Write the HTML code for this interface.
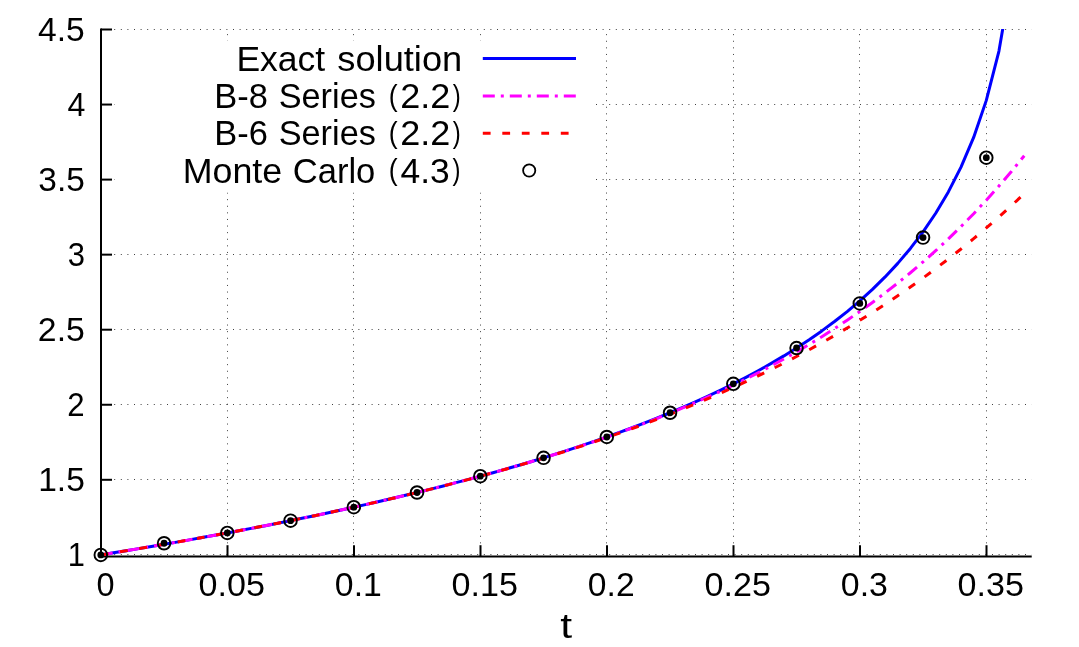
<!DOCTYPE html>
<html><head><meta charset="utf-8"><title>plot</title>
<style>html,body{margin:0;padding:0;background:#fff;}svg{display:block;will-change:transform;}text{font-family:"Liberation Sans",sans-serif;fill:#000;}</style>
</head><body>
<svg width="1079" height="647" viewBox="0 0 1079 647">
<rect x="0" y="0" width="1079" height="647" fill="#ffffff"/>
<g stroke="#000" stroke-opacity="0.75" stroke-width="1" stroke-dasharray="1 5.6" fill="none">
<path d="M101.0,554.50 H1031.7"/>
<path d="M101.0,479.50 H1031.7"/>
<path d="M101.0,404.50 H1031.7"/>
<path d="M101.0,329.50 H1031.7"/>
<path d="M101.0,254.50 H1031.7"/>
<path d="M101.0,179.50 H1031.7"/>
<path d="M101.0,104.50 H1031.7"/>
<path d="M101.0,29.50 H1031.7"/>
<path d="M227.50,556.55 V29.5"/>
<path d="M353.50,556.55 V29.5"/>
<path d="M480.50,556.55 V29.5"/>
<path d="M606.50,556.55 V29.5"/>
<path d="M733.50,556.55 V29.5"/>
<path d="M859.50,556.55 V29.5"/>
<path d="M986.50,556.55 V29.5"/>
</g>
<rect x="114.5" y="41" width="481" height="151.5" fill="#fff"/>
<g stroke="#000" stroke-width="2" fill="none" stroke-linecap="butt">
<path d="M101.0,28.50 V557.40"/>
<path d="M100.0,556.40 H1031.73"/>
<path d="M101.0,479.80 h11"/>
<path d="M101.0,404.75 h11"/>
<path d="M101.0,329.70 h11"/>
<path d="M101.0,254.65 h11"/>
<path d="M101.0,179.60 h11"/>
<path d="M101.0,104.55 h11"/>
<path d="M101.0,29.50 h11"/>
<path d="M227.50,556.4 v-11.2"/>
<path d="M354.00,556.4 v-11.2"/>
<path d="M480.50,556.4 v-11.2"/>
<path d="M607.00,556.4 v-11.2"/>
<path d="M733.50,556.4 v-11.2"/>
<path d="M860.00,556.4 v-11.2"/>
<path d="M986.50,556.4 v-11.2"/>
</g>
<clipPath id="pc"><rect x="0" y="28.90" width="1079" height="647"/></clipPath>
<path d="M100.80,554.90 L113.45,552.84 L126.10,550.76 L138.75,548.64 L151.40,546.50 L164.05,544.32 L176.70,542.11 L189.35,539.87 L202.00,537.60 L214.65,535.29 L227.30,532.94 L239.95,530.56 L252.60,528.14 L265.25,525.68 L277.90,523.18 L290.55,520.63 L303.20,518.04 L315.85,515.41 L328.50,512.73 L341.15,510.00 L353.80,507.22 L366.45,504.39 L379.10,501.50 L391.75,498.56 L404.40,495.56 L417.05,492.50 L429.70,489.37 L442.35,486.18 L455.00,482.92 L467.65,479.58 L480.30,476.17 L492.95,472.68 L505.60,469.11 L518.25,465.45 L530.90,461.70 L543.55,457.85 L556.20,453.91 L568.85,449.85 L581.50,445.68 L594.15,441.40 L606.80,436.99 L619.45,432.44 L632.10,427.76 L644.75,422.92 L657.40,417.92 L670.05,412.75 L682.70,407.40 L695.35,401.85 L708.00,396.08 L720.65,390.09 L733.30,383.84 L745.95,377.33 L758.60,370.52 L771.25,363.39 L783.90,355.90 L796.55,348.02 L809.20,339.70 L821.85,330.90 L834.50,321.55 L847.15,311.57 L859.80,300.89 L872.45,289.39 L885.10,276.94 L897.75,263.36 L910.40,248.43 L923.05,231.85 L935.70,213.22 L948.35,191.94 L961.00,167.15 L973.65,137.44 L986.30,100.38 L998.95,51.08 L1011.60,-22.78" stroke="#0000ff" stroke-width="3" fill="none" stroke-linejoin="round" clip-path="url(#pc)"/>
<path d="M100.80,554.90 L113.45,552.84 L126.10,550.76 L138.75,548.64 L151.40,546.50 L164.05,544.32 L176.70,542.11 L189.35,539.87 L202.00,537.60 L214.65,535.29 L227.30,532.94 L239.95,530.56 L252.60,528.14 L265.25,525.68 L277.90,523.18 L290.55,520.63 L303.20,518.04 L315.85,515.41 L328.50,512.73 L341.15,510.00 L353.80,507.22 L366.45,504.39 L379.10,501.50 L391.75,498.56 L404.40,495.56 L417.05,492.50 L429.70,489.37 L442.35,486.18 L455.00,482.92 L467.65,479.59 L480.30,476.18 L492.95,472.69 L505.60,469.12 L518.25,465.47 L530.90,461.73 L543.55,457.89 L556.20,453.95 L568.85,449.91 L581.50,445.77 L594.15,441.51 L606.80,437.13 L619.45,432.62 L632.10,427.98 L644.75,423.20 L657.40,418.28 L670.05,413.20 L682.70,407.96 L695.35,402.55 L708.00,396.96 L720.65,391.18 L733.30,385.20 L745.95,379.01 L758.60,372.59 L771.25,365.94 L783.90,359.04 L796.55,351.87 L809.20,344.43 L821.85,336.69 L834.50,328.64 L847.15,320.26 L859.80,311.54 L872.45,302.44 L885.10,292.96 L897.75,283.07 L910.40,272.75 L923.05,261.96 L935.70,250.69 L948.35,238.91 L961.00,226.58 L973.65,213.68 L986.30,200.18 L998.95,186.04 L1011.60,171.22 L1024.25,155.69" stroke="#ff00ff" stroke-width="3" fill="none" stroke-dasharray="12 6 3 6" stroke-linejoin="round"/>
<path d="M100.80,554.90 L113.45,552.84 L126.10,550.76 L138.75,548.64 L151.40,546.50 L164.05,544.32 L176.70,542.11 L189.35,539.87 L202.00,537.60 L214.65,535.29 L227.30,532.94 L239.95,530.56 L252.60,528.14 L265.25,525.68 L277.90,523.18 L290.55,520.63 L303.20,518.05 L315.85,515.41 L328.50,512.73 L341.15,510.00 L353.80,507.23 L366.45,504.39 L379.10,501.51 L391.75,498.57 L404.40,495.57 L417.05,492.51 L429.70,489.39 L442.35,486.21 L455.00,482.95 L467.65,479.63 L480.30,476.23 L492.95,472.76 L505.60,469.21 L518.25,465.58 L530.90,461.86 L543.55,458.06 L556.20,454.16 L568.85,450.17 L581.50,446.07 L594.15,441.88 L606.80,437.57 L619.45,433.15 L632.10,428.62 L644.75,423.96 L657.40,419.18 L670.05,414.26 L682.70,409.21 L695.35,404.01 L708.00,398.66 L720.65,393.16 L733.30,387.49 L745.95,381.66 L758.60,375.65 L771.25,369.46 L783.90,363.08 L796.55,356.50 L809.20,349.72 L821.85,342.72 L834.50,335.50 L847.15,328.05 L859.80,320.36 L872.45,312.42 L885.10,304.22 L897.75,295.75 L910.40,286.99 L923.05,277.95 L935.70,268.60 L948.35,258.94 L961.00,248.95 L973.65,238.62 L986.30,227.94 L998.95,216.90 L1011.60,205.47 L1024.25,193.65" stroke="#ff0000" stroke-width="3" fill="none" stroke-dasharray="7.8 11.7" stroke-linejoin="round"/>
<g>
<circle cx="100.80" cy="554.90" r="6.3" fill="none" stroke="#000" stroke-width="1.9"/>
<circle cx="100.80" cy="554.90" r="3.4" fill="#000"/>
<circle cx="164.05" cy="543.25" r="6.3" fill="none" stroke="#000" stroke-width="1.9"/>
<circle cx="164.05" cy="543.25" r="3.4" fill="#000"/>
<circle cx="227.30" cy="532.94" r="6.3" fill="none" stroke="#000" stroke-width="1.9"/>
<circle cx="227.30" cy="532.94" r="3.4" fill="#000"/>
<circle cx="290.55" cy="520.63" r="6.3" fill="none" stroke="#000" stroke-width="1.9"/>
<circle cx="290.55" cy="520.63" r="3.4" fill="#000"/>
<circle cx="353.80" cy="507.22" r="6.3" fill="none" stroke="#000" stroke-width="1.9"/>
<circle cx="353.80" cy="507.22" r="3.4" fill="#000"/>
<circle cx="417.05" cy="492.50" r="6.3" fill="none" stroke="#000" stroke-width="1.9"/>
<circle cx="417.05" cy="492.50" r="3.4" fill="#000"/>
<circle cx="480.30" cy="476.17" r="6.3" fill="none" stroke="#000" stroke-width="1.9"/>
<circle cx="480.30" cy="476.17" r="3.4" fill="#000"/>
<circle cx="543.55" cy="457.85" r="6.3" fill="none" stroke="#000" stroke-width="1.9"/>
<circle cx="543.55" cy="457.85" r="3.4" fill="#000"/>
<circle cx="606.80" cy="436.99" r="6.3" fill="none" stroke="#000" stroke-width="1.9"/>
<circle cx="606.80" cy="436.99" r="3.4" fill="#000"/>
<circle cx="670.05" cy="412.75" r="6.3" fill="none" stroke="#000" stroke-width="1.9"/>
<circle cx="670.05" cy="412.75" r="3.4" fill="#000"/>
<circle cx="733.30" cy="383.84" r="6.3" fill="none" stroke="#000" stroke-width="1.9"/>
<circle cx="733.30" cy="383.84" r="3.4" fill="#000"/>
<circle cx="796.55" cy="348.02" r="6.3" fill="none" stroke="#000" stroke-width="1.9"/>
<circle cx="796.55" cy="348.02" r="3.4" fill="#000"/>
<circle cx="859.80" cy="303.40" r="6.3" fill="none" stroke="#000" stroke-width="1.9"/>
<circle cx="859.80" cy="303.40" r="3.4" fill="#000"/>
<circle cx="923.05" cy="237.60" r="6.3" fill="none" stroke="#000" stroke-width="1.9"/>
<circle cx="923.05" cy="237.60" r="3.4" fill="#000"/>
<circle cx="986.30" cy="157.70" r="6.3" fill="none" stroke="#000" stroke-width="1.9"/>
<circle cx="986.30" cy="157.70" r="3.4" fill="#000"/>
</g>
<path d="M482.8,58.6 H576" stroke="#0000ff" stroke-width="3"/>
<path d="M482.8,95.9 H576" stroke="#ff00ff" stroke-width="3" stroke-dasharray="12 6 3 6"/>
<path d="M482.8,133.2 H576" stroke="#ff0000" stroke-width="3" stroke-dasharray="7.8 11.7"/>
<circle cx="529.2" cy="170.5" r="6.1" fill="none" stroke="#000" stroke-width="1.8"/>
<text transform="translate(67.65,565.90) scale(1.0058,1.0618)" font-size="30.67">1</text>
<text transform="translate(38.18,490.85) scale(1.0941,1.0618)" font-size="30.67">1.5</text>
<text transform="translate(67.25,415.80) scale(1.0165,1.0645)" font-size="30.67">2</text>
<text transform="translate(37.86,340.75) scale(1.1019,1.0645)" font-size="30.67">2.5</text>
<text transform="translate(67.72,265.70) scale(1.0105,1.0645)" font-size="30.67">3</text>
<text transform="translate(38.37,190.65) scale(1.0895,1.0645)" font-size="30.67">3.5</text>
<text transform="translate(67.40,115.60) scale(1.0495,1.0618)" font-size="30.67">4</text>
<text transform="translate(38.10,40.55) scale(1.0960,1.0618)" font-size="30.67">4.5</text>
<text transform="translate(96.54,595.70) scale(1.0576,1.0645)" font-size="30.67">0</text>
<text transform="translate(198.58,595.70) scale(1.1126,1.0645)" font-size="30.67">0.05</text>
<text transform="translate(334.85,595.70) scale(1.1017,1.0645)" font-size="30.67">0.1</text>
<text transform="translate(451.58,595.70) scale(1.1126,1.0645)" font-size="30.67">0.15</text>
<text transform="translate(587.86,595.70) scale(1.0962,1.0645)" font-size="30.67">0.2</text>
<text transform="translate(704.58,595.70) scale(1.1126,1.0645)" font-size="30.67">0.25</text>
<text transform="translate(840.85,595.70) scale(1.1052,1.0645)" font-size="30.67">0.3</text>
<text transform="translate(957.58,595.70) scale(1.1126,1.0645)" font-size="30.67">0.35</text>
<text transform="translate(560.27,638.00) scale(1.3333,1.0891)" font-size="32">t</text>
<text transform="translate(236.42,70.90) scale(1.1100,1.0990)" font-size="32">Exact</text>
<text transform="translate(337.35,70.90) scale(1.1326,1.0850)" font-size="32">solution</text>
<text transform="translate(214.21,107.90) scale(1.0774,1.1018)" font-size="32">B-8</text>
<text transform="translate(278.71,107.90) scale(1.0708,1.0850)" font-size="32">Series</text>
<text transform="translate(388.78,105.85) scale(0.8333,0.9417)" font-size="32">(</text>
<text transform="translate(400.25,107.90) scale(1.1265,1.1018)" font-size="32">2.2</text>
<text transform="translate(452.67,105.85) scale(0.7500,0.9417)" font-size="32">)</text>
<text transform="translate(214.21,145.20) scale(1.0774,1.1018)" font-size="32">B-6</text>
<text transform="translate(278.71,145.20) scale(1.0708,1.0850)" font-size="32">Series</text>
<text transform="translate(388.78,143.15) scale(0.8333,0.9417)" font-size="32">(</text>
<text transform="translate(400.25,145.20) scale(1.1265,1.1018)" font-size="32">2.2</text>
<text transform="translate(452.67,143.15) scale(0.7500,0.9417)" font-size="32">)</text>
<text transform="translate(182.70,182.50) scale(1.1180,1.0990)" font-size="32">Monte</text>
<text transform="translate(292.72,182.50) scale(1.0800,1.0850)" font-size="32">Carlo</text>
<text transform="translate(388.78,180.45) scale(0.8333,0.9417)" font-size="32">(</text>
<text transform="translate(400.45,182.50) scale(1.1061,1.1018)" font-size="32">4.3</text>
<text transform="translate(452.47,180.45) scale(0.7500,0.9417)" font-size="32">)</text>
</svg></body></html>
